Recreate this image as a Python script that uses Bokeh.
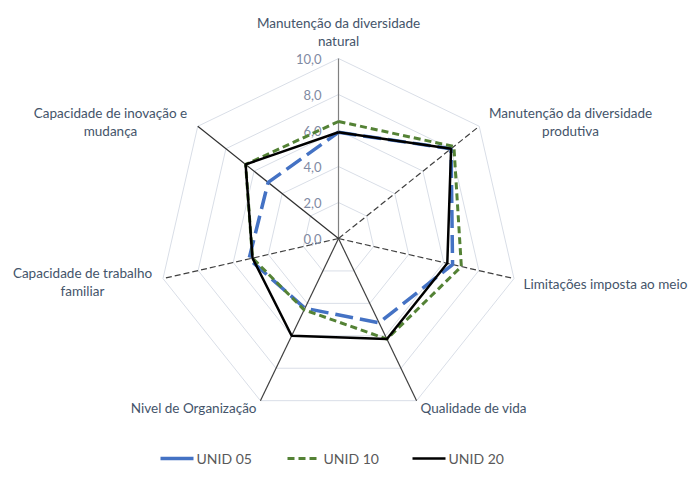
import math
from bokeh.plotting import figure
from bokeh.models import Range1d
from bokeh.core.properties import value
from bokeh.embed import file_html
from bokeh.resources import INLINE

categories = ["Manutenção da diversidade\nnatural",
              "Manutenção da diversidade\nprodutiva",
              "Limitações imposta ao meio",
              "Qualidade de vida",
              "Nivel de Organização",
              "Capacidade de trabalho\nfamiliar",
              "Capacidade de inovação e\nmudança"]
unid05 = [5.9, 8.0, 6.5, 5.2, 4.3, 5.1, 5.0]
unid10 = [6.5, 8.2, 7.0, 6.2, 4.4, 4.9, 6.6]
unid20 = [5.9, 8.0, 6.2, 6.2, 6.0, 4.9, 6.6]
ticks = [0, 2, 4, 6, 8, 10]
tick_labels = ["0,0", "2,0", "4,0", "6,0", "8,0", "10,0"]

W, H = 691, 482
S = 18.0          # pixels per unit
CX, CY = 338, 238  # page pixel of center

def P(px, py):
    return ((px - CX) / S, (CY - py) / S)

p = figure(width=W, height=H, output_backend="svg", toolbar_location=None,
           x_range=Range1d(-CX / S, (W - CX) / S),
           y_range=Range1d((CY - H) / S, CY / S),
           min_border=0)
p.axis.visible = False
p.grid.visible = False
p.outline_line_color = None
p.background_fill_color = "white"

n = len(categories)
ang = [2 * math.pi * i / n for i in range(n)]

def xy(vals):
    xs = [v * math.sin(a) for v, a in zip(vals, ang)]
    ys = [v * math.cos(a) for v, a in zip(vals, ang)]
    return xs + xs[:1], ys + ys[:1]

# grid rings
for t in ticks[1:]:
    xs, ys = xy([t] * n)
    p.line(xs, ys, line_color="#d9dee7", line_width=1)

# spokes
spoke_dash = ["solid", "6 3", "6 3", "solid", "solid", "6 3", "solid"]
spoke_col = ["#808080", "#404040", "#404040", "#404040", "#404040", "#404040", "#303030"]
for i in range(n):
    p.line([0, 10 * math.sin(ang[i])], [0, 10 * math.cos(ang[i])],
           line_color=spoke_col[i], line_width=1.2, line_dash=spoke_dash[i])

# tick labels
tx = [P(321, 0)[0]] * len(ticks)
ty = [t for t in ticks]
p.text(x=tx, y=ty, text=tick_labels, text_align="right", text_baseline="middle",
       text_font=value("Lato"), text_font_size="13px", text_color="#7f8aa3")

# series
xs, ys = xy(unid05)
p.line(xs, ys, line_color="#4472c4", line_width=3.5, line_dash="18 7")
xs, ys = xy(unid10)
p.line(xs, ys, line_color="#548235", line_width=3, line_dash="7 4")
xs, ys = xy(unid20)
p.line(xs, ys, line_color="#000000", line_width=2.5)

# category labels
lab_pos = [((338, 22), "center"), ((570, 112), "center"), ((523, 283), "left"),
           ((420, 407), "left"), ((256, 407), "right"), ((82, 272), "center"),
           ((110, 112), "center")]
for cat, ((px, py), al) in zip(categories, lab_pos):
    for k, line in enumerate(cat.split("\n")):
        x, y = P(px, py + 18 * k)
        p.text(x=[x], y=[y], text=[line], text_align=al, text_baseline="middle",
               text_font=value("Lato"), text_font_size="13.5px", text_color="#44546a")

# legend
names = ["UNID 05", "UNID 10", "UNID 20"]
colors = ["#4472c4", "#548235", "#000000"]
dashes = ["solid", "7 4", "solid"]
widths = [3.5, 3, 2.5]
lx = [160, 287, 412]
for nm, c, d, w, x0 in zip(names, colors, dashes, widths, lx):
    a = P(x0, 458)
    b = P(x0 + 33, 458)
    p.line([a[0], b[0]], [a[1], b[1]], line_color=c, line_width=w, line_dash=d)
    t = P(x0 + 36, 458)
    p.text(x=[t[0]], y=[t[1]], text=[nm], text_align="left", text_baseline="middle",
           text_font=value("Lato"), text_font_size="14px", text_color="#595959")

open("out.html", "w").write(file_html(p, INLINE))
